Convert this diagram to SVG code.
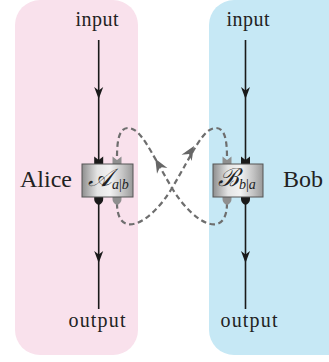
<svg xmlns="http://www.w3.org/2000/svg" xmlns:xlink="http://www.w3.org/1999/xlink" width="329" height="362" viewBox="0 0 329 362">
<style>
text{font-family:'Liberation Serif','DejaVu Serif',serif;fill:#222}
.wire{stroke:#1a1a1a;stroke-width:1.6;fill:none}
.dash{stroke:#6e6e6e;stroke-width:2.2;fill:none;stroke-dasharray:5.5 3.5}
.box{fill:url(#metal);stroke:#555;stroke-width:1}
.blk{fill:#1a1a1a}
.gry{fill:#8f8f8f}
.gryd{fill:#666}
</style>
<defs>
<linearGradient id="metal" x1="0" y1="0" x2="1" y2="0">
<stop offset="0" stop-color="#8e8e8e"/>
<stop offset="0.3" stop-color="#e4e4e4"/>
<stop offset="0.55" stop-color="#f2f2f2"/>
<stop offset="0.8" stop-color="#c4c4c4"/>
<stop offset="1" stop-color="#999"/>
</linearGradient>
<path id="ah" d="M0,0 L-12,-4.5 L-8.5,0 L-12,4.5 Z"/>
<path id="tailTop" d="M-4.5,-7.5 L0,-4 L4.5,-7.5 L4.5,0 L-4.5,0 Z"/>
<path id="capBot" d="M-4.5,0 L4.5,0 L4.5,2 Q4.5,6 0,8 Q-4.5,6 -4.5,2 Z"/>
</defs>
<g id="regions">
<rect x="15" y="0" width="123" height="355" rx="25" fill="#f9e1ec"/>
<rect x="209" y="0" width="145" height="355" rx="25" fill="#c6e8f5"/>
</g>
<g id="connectors">
<line class="wire" x1="98.7" y1="40" x2="98.7" y2="309"/>
<line class="wire" x1="245.5" y1="40" x2="245.5" y2="309"/>
<use href="#ah" class="blk" transform="translate(98.7,99) rotate(90)"/>
<use href="#ah" class="blk" transform="translate(98.7,263) rotate(90)"/>
<use href="#ah" class="blk" transform="translate(245.5,99) rotate(90)"/>
<use href="#ah" class="blk" transform="translate(245.5,263) rotate(90)"/>
<path class="dash" d="M117,203 C117,240 150,225 172,188 C194,151 203,128 216,128 C224,128 227,138 227,157"/>
<path class="dash" d="M227,203 C227,240 194,225 172,188 C150,151 141,128 128,128 C120,128 117,138 117,157"/>
<polygon class="gryd" points="194,146 191.7,161 189,154.1 181.5,154.7"/>
<polygon class="gryd" points="155.3,158.7 167.4,167.9 160,167 157,173.8"/>
</g>
<g id="alice">
<text x="20" y="187" font-size="24">Alice</text>
<use href="#tailTop" class="blk" x="98.7" y="164"/>
<use href="#tailTop" class="gry" x="117" y="164"/>
<use href="#capBot" class="blk" x="98.7" y="197"/>
<use href="#capBot" class="gry" x="117" y="197"/>
<rect class="box" x="82" y="164" width="51" height="33"/>
<text x="88" y="186" font-size="25" font-style="italic">𝒜<tspan font-size="14" dy="3">a</tspan><tspan font-size="14" font-style="normal">|</tspan><tspan font-size="14">b</tspan></text>
<text x="97" y="26" font-size="20" text-anchor="middle" textLength="43">input</text>
<text x="97" y="327" font-size="20" text-anchor="middle" textLength="57">output</text>
</g>
<g id="bob">
<text x="283" y="187" font-size="24">Bob</text>
<use href="#tailTop" class="gry" x="227" y="164"/>
<use href="#tailTop" class="blk" x="245.5" y="164"/>
<use href="#capBot" class="gry" x="227" y="197"/>
<use href="#capBot" class="blk" x="245.5" y="197"/>
<rect class="box" x="213" y="164" width="50" height="33"/>
<text x="218" y="186" font-size="25" font-style="italic">ℬ<tspan font-size="14" dy="3">b</tspan><tspan font-size="14" font-style="normal">|</tspan><tspan font-size="14">a</tspan></text>
<text x="248" y="26" font-size="20" text-anchor="middle" textLength="43">input</text>
<text x="249" y="327" font-size="20" text-anchor="middle" textLength="57">output</text>
</g>
</svg>
